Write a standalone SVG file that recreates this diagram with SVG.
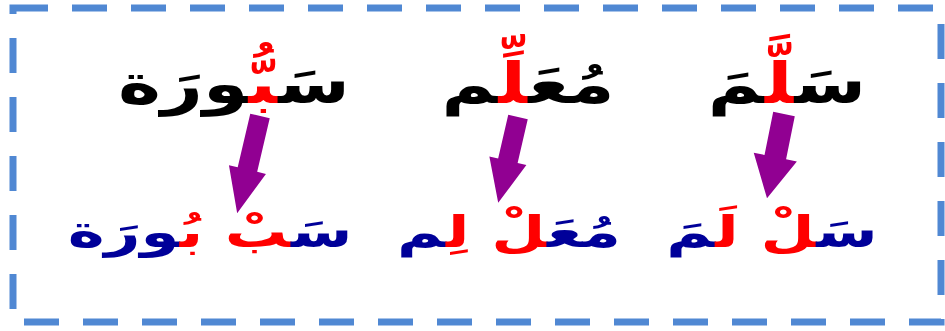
<svg xmlns="http://www.w3.org/2000/svg" width="945" height="331" viewBox="0 0 945 331">
<style>
.frame{fill:none;stroke:#5088D3;stroke-width:7;stroke-dasharray:35 24}
.w{font-family:"DejaVu Sans",sans-serif;font-weight:bold;text-anchor:middle}
.top{font-size:56px;fill:#000}
.bot{font-size:44px;fill:#000099}
.r{fill:#FF0000}
.arr{fill:#910092}
</style>
<rect class="frame" x="13" y="8" width="928" height="314"/>
<g id="word-sallama"><text class="w top" transform="translate(787,103) scale(1.3,1)" direction="rtl">سَ<tspan class="r">لَّ</tspan>مَ</text></g>
<g id="word-muallim"><text class="w top" transform="translate(528,103) scale(1.3,1)" direction="rtl">مُعَ<tspan class="r">لِّ</tspan>م</text></g>
<g id="word-sabbura"><text class="w top" transform="translate(234,103) scale(1.3,1)" direction="rtl">سَ<tspan class="r">بُّ</tspan>ورَة</text></g>
<g id="split-sallama"><text class="w bot" transform="translate(772,247) scale(1.42,1)" direction="rtl">سَ<tspan class="r">لْ لَ</tspan>مَ</text></g>
<g id="split-muallim"><text class="w bot" transform="translate(509,247) scale(1.42,1)" direction="rtl">مُعَ<tspan class="r">لْ لِ</tspan>م</text></g>
<g id="split-sabbura"><text class="w bot" transform="translate(210,247) scale(1.42,1)" direction="rtl">سَ<tspan class="r">بْ بُ</tspan>ورَة</text></g>
<g id="connectors">
<polygon class="arr" transform="translate(784,114) rotate(11.4)" points="-11,0 11,0 11,44 22,44 0,86 -22,44 -11,44"/>
<polygon class="arr" transform="translate(518,117) rotate(13)" points="-10,0 10,0 10,45 19,45 0,88 -19,45 -10,45"/>
<polygon class="arr" transform="translate(260,116) rotate(13.2)" points="-10,0 10,0 10,55 19,55 0,100 -19,55 -10,55"/>
</g>
</svg>
